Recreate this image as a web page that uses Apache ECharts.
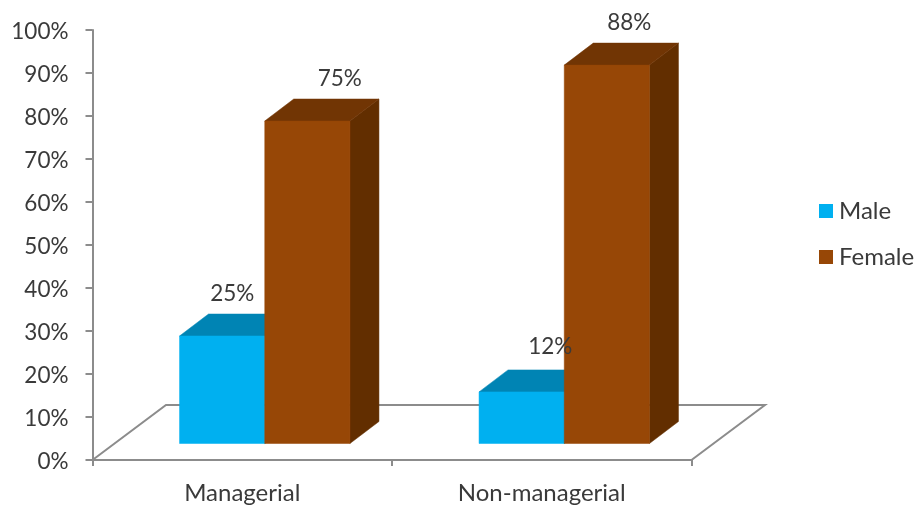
<!DOCTYPE html>
<html>
<head>
<meta charset="utf-8">
<style>html,body{margin:0;padding:0;background:#fff}#chart{width:918px;height:508px}</style>
<script src="https://cdn.jsdelivr.net/npm/echarts@6/dist/echarts.min.js"></script>
</head>
<body>
<div id="chart"></div>
<script>
// Share of staff by gender in each job category
const categories = ['Managerial', 'Non-managerial'];
const maleValues = [25, 12];
const femaleValues = [75, 88];
const valueTicks = { min: 0, max: 100, step: 10 };

// Pseudo-3D layout, in pixels
const DEPTH_X = 29, DEPTH_Y = 22;      // extrusion of each column
const FLOOR_X = 73.5, FLOOR_Y = 55;    // extrusion of the floor
const LIFT_X = 22.5, LIFT_Y = 16.5;    // columns stand mid-way across the floor
const BAR_SHARE = 0.2845;              // column width as a share of the category band

const FONT = 'Lato, "Open Sans", sans-serif';
const TEXT = '#3a3a3a';
const AXIS = '#8c8c8c';
const NUMBER_SIZE = 22.5;
const WORD_SIZE = 24;

function polygon(points, fill) {
  return { type: 'polygon', shape: { points }, style: { fill, stroke: fill, lineWidth: 0.5 } };
}

// Draws one column (front, top and side faces); slot -1 is left of centre, 0 is right of it
function columnRenderer(slot, front, top, side) {
  return function (params, api) {
    const cat = api.value(0);
    const peak = api.coord([cat, api.value(1)]);
    const base = api.coord([cat, 0]);
    const w = api.size([1, 0])[0] * BAR_SHARE;
    const x0 = peak[0] + LIFT_X + slot * w;
    const x1 = x0 + w;
    const yt = peak[1] - LIFT_Y;
    const yb = base[1] - LIFT_Y;
    return {
      type: 'group',
      children: [
        polygon([[x1, yb], [x1 + DEPTH_X, yb - DEPTH_Y], [x1 + DEPTH_X, yt - DEPTH_Y], [x1, yt]], side),
        polygon([[x0, yt], [x0 + DEPTH_X, yt - DEPTH_Y], [x1 + DEPTH_X, yt - DEPTH_Y], [x1, yt]], top),
        polygon([[x0, yb], [x1, yb], [x1, yt], [x0, yt]], front)
      ]
    };
  };
}

// Value labels were placed by hand above each column: [dx, dy] from the column's band centre and top
function labelRenderer(nudges) {
  return function (params, api) {
    const cat = api.value(0);
    const peak = api.coord([cat, api.value(1)]);
    const n = nudges[params.dataIndex];
    return {
      type: 'text',
      style: {
        x: peak[0] + n[0], y: peak[1] + n[1],
        text: api.value(1) + '%',
        fill: TEXT, font: NUMBER_SIZE + 'px ' + FONT, align: 'center', verticalAlign: 'middle'
      }
    };
  };
}

// Floor outline: the two receding edges and the back edge
function floorRenderer(params, api) {
  const g = params.coordSys;
  const yf = g.y + g.height;
  return {
    type: 'polyline',
    shape: { points: [[g.x, yf], [g.x + FLOOR_X, yf - FLOOR_Y], [g.x + g.width + FLOOR_X, yf - FLOOR_Y], [g.x + g.width, yf]] },
    style: { fill: 'none', stroke: AXIS, lineWidth: 2 }
  };
}

const toPairs = values => values.map((v, i) => [i, v]);

const chart = echarts.init(document.getElementById('chart'));
chart.setOption({
  animation: false,
  backgroundColor: '#fff',
  textStyle: { fontFamily: FONT },
  grid: { left: 92.5, top: 30, width: 599, height: 430, containLabel: false },
  legend: {
    data: ['Male', 'Female'],
    orient: 'vertical',
    left: 819, top: 199, padding: 0,
    icon: 'rect', itemWidth: 14, itemHeight: 14, itemGap: 22,
    selectedMode: false,
    textStyle: { color: TEXT, fontSize: WORD_SIZE, fontFamily: FONT, padding: [0, 0, 0, 1] }
  },
  xAxis: {
    type: 'category',
    data: categories,
    axisLine: { lineStyle: { color: AXIS, width: 2 } },
    axisTick: { show: true, length: 6, lineStyle: { color: AXIS, width: 2 } },
    axisLabel: { color: TEXT, fontSize: WORD_SIZE, fontFamily: FONT, margin: 21 },
    splitLine: { show: false }
  },
  yAxis: {
    type: 'value',
    min: valueTicks.min, max: valueTicks.max, interval: valueTicks.step,
    axisLine: { show: true, lineStyle: { color: AXIS, width: 2 } },
    axisTick: { show: true, length: 7, lineStyle: { color: AXIS, width: 2 } },
    axisLabel: {
      margin: 24,
      formatter: '{n|{value}%}',
      rich: { n: { color: TEXT, fontSize: NUMBER_SIZE, fontFamily: FONT, padding: [4, 0, 0, 0] } }
    },
    splitLine: { show: false }
  },
  series: [
    { type: 'custom', name: 'floor', silent: true, z: 1, data: [[0, 0]], renderItem: floorRenderer },
    {
      type: 'custom', name: 'Male', silent: true, z: 2,
      itemStyle: { color: '#00B0F0' },
      encode: { x: 0, y: 1 }, data: toPairs(maleValues),
      renderItem: columnRenderer(-1, '#00B0F0', '#0084B4', '#0084B4')
    },
    {
      type: 'custom', name: 'Female', silent: true, z: 3,
      itemStyle: { color: '#974706' },
      encode: { x: 0, y: 1 }, data: toPairs(femaleValues),
      renderItem: columnRenderer(0, '#974706', '#713504', '#622E00')
    },
    {
      type: 'custom', name: 'male labels', silent: true, z: 4,
      encode: { x: 0, y: 1 }, data: toPairs(maleValues),
      renderItem: labelRenderer([[-10, -58.5], [8.5, -61.4]])
    },
    {
      type: 'custom', name: 'female labels', silent: true, z: 4,
      encode: { x: 0, y: 1 }, data: toPairs(femaleValues),
      renderItem: labelRenderer([[97.5, -58.5], [87.5, -58.6]])
    }
  ]
});
</script>
</body>
</html>
